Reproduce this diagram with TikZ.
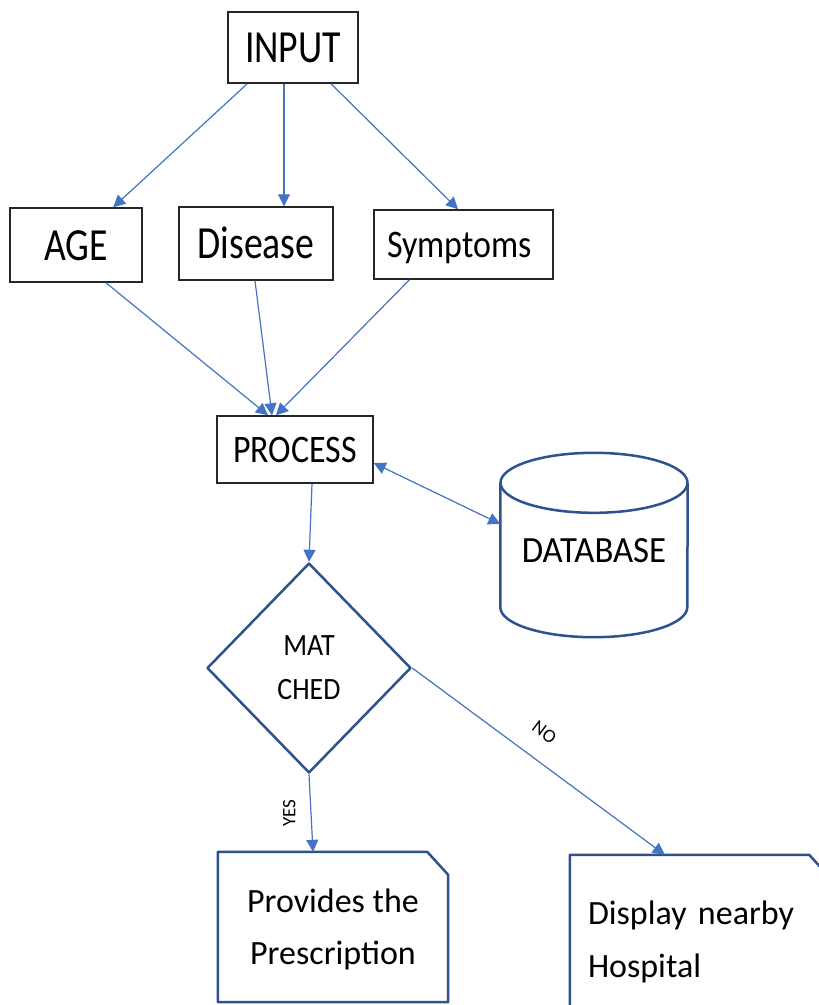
\documentclass[tikz,border=0pt]{standalone}
\usepackage{fontspec}
\setmainfont{Carlito}
\newfontfamily\fa{Carlito}[FakeStretch=0.82]
\newfontfamily\fb{Carlito}[FakeStretch=0.87]
\newfontfamily\fc{Carlito}[FakeStretch=0.9]
\newfontfamily\fd{Carlito}[FakeStretch=0.94]
\usetikzlibrary{arrows.meta,shapes.geometric}
\definecolor{arrowblue}{HTML}{4472C4}
\definecolor{shapeblue}{HTML}{2F528F}
\definecolor{boxblack}{HTML}{262626}
\begin{document}
\begin{tikzpicture}[x=1pt,y=-1pt,
  box/.style={draw=boxblack, line width=1.5pt, fill=white, inner sep=0pt, text depth=0pt},
  bigfont/.style={font=\fa\fontsize{46}{46}\selectfont, text height=30pt},
  midfont/.style={font=\fb\fontsize{39}{39}\selectfont, text height=25pt},
  conn/.style={draw=arrowblue, line width=1.2pt, -{Triangle[length=12pt,width=12pt]}},
  biconn/.style={draw=arrowblue, line width=1.2pt, {Triangle[length=12pt,width=12pt]}-{Triangle[length=12pt,width=12pt]}},
  blueline/.style={draw=shapeblue, line width=2.5pt, line join=round},
  lbl/.style={font=\fontsize{19}{19}\selectfont, text=black, inner sep=1pt}
]
\useasboundingbox (0,0) rectangle (819,1005);
\fill[white] (0,0) rectangle (819,1005);
\clip (0,0) rectangle (819,1005);

% top boxes
\node[box, bigfont, minimum width=130pt, minimum height=71pt] (input) at (293,47.5) {INPUT};
\node[box, bigfont, minimum width=132pt, minimum height=74pt] (age) at (76,245) {AGE};
\node[box, bigfont, minimum width=154pt, minimum height=73pt] (disease) at (256,243.5) {Disease};
\node[box, midfont, minimum width=179pt, minimum height=69pt] (symptoms) at (463.5,244.5) {\hspace*{-8pt}Symptoms};
\node[box, midfont, minimum width=156pt, minimum height=67pt] (process) at (295,449.5) {PROCESS};

% database cylinder
\node[inner sep=0pt, minimum width=187pt, minimum height=184pt, text height=35pt, text depth=0pt,
      font=\fd\fontsize{37}{37}\selectfont] (db) at (594,545) {DATABASE};
\draw[blueline] ([yshift=-30pt]db.north) ellipse [x radius=93.5pt, y radius=30pt];
\draw[blueline] ([yshift=-30pt]db.north west) -- ([yshift=30pt]db.south west)
  arc[start angle=180, end angle=360, x radius=93.5pt, y radius=30pt] -- ([yshift=-30pt]db.north east);

% decision
\node[diamond, blueline, fill=white, minimum width=204pt, minimum height=210pt, inner sep=0pt,
      align=center, font=\fc\fontsize{31}{44}\selectfont] (match) at (309,668) {MAT\\CHED};

% bottom boxes
\node[inner sep=0pt, minimum width=230pt, minimum height=150pt, align=center, text depth=0pt,
      font=\fontsize{34}{52}\selectfont] (prov) at (333,927) {Provides the\\Prescription};
\draw[blueline] (prov.south west) -- (prov.north west) -- ([xshift=-21pt]prov.north east)
  -- ([yshift=-23pt]prov.north east) -- (prov.south east) -- cycle;

\node[inner xsep=18pt, inner ysep=0pt, minimum width=260pt, minimum height=160pt, text width=224pt,
      align=left, text height=24pt, text depth=46pt, font=\fontsize{34}{53}\selectfont] (disp) at (700,935)
      {Display nearby\hfill\mbox{}\\Hospital\hfill\mbox{}};
\draw[blueline] (disp.south west) -- (disp.north west) -- ([xshift=-21pt]disp.north east)
  -- ([yshift=-23pt]disp.north east) -- (disp.south east) -- cycle;

% connectors
\draw[conn] ([xshift=20pt]input.south west) -- ([xshift=104pt]age.north west);
\draw[conn] ([xshift=-9pt]input.south) -- ([xshift=28pt]disease.north);
\draw[conn] ([xshift=38pt]input.south) -- ([xshift=-5.5pt]symptoms.north);
\draw[conn] ([xshift=30pt]age.south) -- ([xshift=-27pt]process.north);
\draw[conn] ([xshift=-1pt]disease.south) -- ([xshift=-23pt]process.north);
\draw[conn] ([xshift=-54pt]symptoms.south) -- ([xshift=-19pt]process.north);
\draw[conn] ([xshift=17pt]process.south) -- (match.north);
\draw[biconn] ([yshift=-13.5pt]process.east) -- ([yshift=21pt]db.west);
\draw[conn] (match.east) -- node[lbl, sloped, pos=0.46, above=19pt] {NO} ([xshift=95pt]disp.north west);
\draw[conn] (match.south) -- node[lbl, rotate=90, anchor=south, yshift=14pt] {YES} ([xshift=-20pt]prov.north);
\end{tikzpicture}
\end{document}
